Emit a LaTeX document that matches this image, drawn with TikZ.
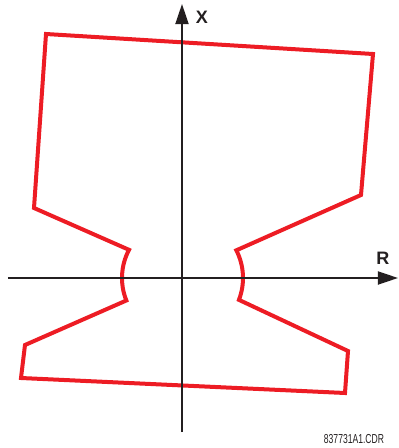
\documentclass[tikz,border=0pt]{standalone}
\usepackage{fontspec}
\setsansfont{Liberation Sans}
\newfontfamily\narrowfont[FakeStretch=0.66]{Liberation Sans}
\usetikzlibrary{arrows.meta,positioning}
\definecolor{zonered}{RGB}{237,28,36}
\definecolor{axisgray}{RGB}{35,31,32}

\begin{document}
\begin{tikzpicture}[x=1pt, y=1pt,
    axis/.style={draw=axisgray, line width=1.8pt, -{Triangle[length=20pt,width=13pt]}},
    zone/.style={draw=zonered, line width=4pt, line join=miter},
    axlabel/.style={font=\sffamily\bfseries\fontsize{18}{18}\selectfont, text=axisgray, inner sep=0pt},
    tag/.style={font=\narrowfont\fontsize{13}{13}\selectfont, text=axisgray, inner sep=0pt}]

    \useasboundingbox (-182,-170) rectangle (217,278);

    % Characteristic
    \draw [zone] (-136,244) -- (191,224) -- (179,83) -- (27:61)
        arc[start angle=27, end angle=-21, radius=61] -- (166,-73) -- (163,-115)
        -- (-161,-100) -- (-157,-67) -- (202:60)
        arc[start angle=202, end angle=152, radius=60] -- (-148,70) -- cycle;

    % Axes
    \coordinate (origin) at (0,0);
    \coordinate (xbot) at (0,-154);
    \coordinate (xtop) at (0,274);
    \coordinate (rleft) at (-174,0);
    \coordinate (rright) at (216,0);
    \draw [axis] (xbot) -- (xtop);
    \draw [axis] (rleft) -- (rright);
    \node [axlabel] (xlabel) at (20,261) {X};
    \node [axlabel] (rlabel) at (201,20) {R};

    % Drawing number
    \node [tag] (drawing) at (172,-161) {837731A1.CDR};
\end{tikzpicture}
\end{document}
